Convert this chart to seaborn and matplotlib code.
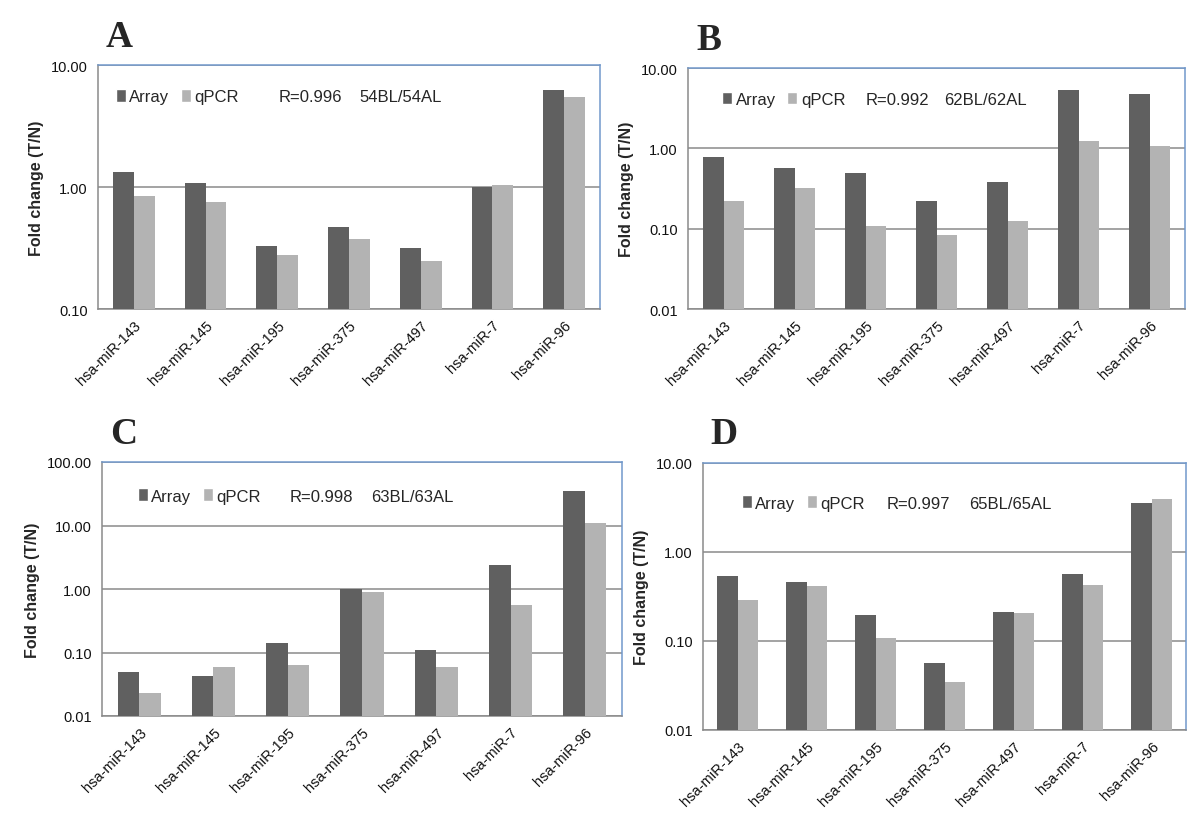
import matplotlib
matplotlib.use('agg')
import matplotlib.pyplot as plt
import matplotlib.ticker as mticker
from matplotlib.patches import Patch
import numpy as np
import pandas as pd
import seaborn as sns

# Data (fold change tumour / normal)
mirnas = ["hsa-miR-143", "hsa-miR-145", "hsa-miR-195", "hsa-miR-375",
          "hsa-miR-497", "hsa-miR-7", "hsa-miR-96"]

array_a = [1.33, 1.08, 0.33, 0.466, 0.316, 1.00, 6.23]
qpcr_a = [0.84, 0.75, 0.277, 0.372, 0.246, 1.03, 5.43]

array_b = [0.77, 0.57, 0.493, 0.219, 0.377, 5.27, 4.74]
qpcr_b = [0.219, 0.318, 0.109, 0.083, 0.126, 1.245, 1.06]

array_c = [0.0495, 0.0433, 0.142, 0.99, 0.109, 2.42, 34.4]
qpcr_c = [0.0228, 0.060, 0.063, 0.897, 0.060, 0.566, 10.9]

array_d = [0.531, 0.455, 0.198, 0.056, 0.212, 0.569, 3.57]
qpcr_d = [0.287, 0.417, 0.107, 0.0343, 0.205, 0.428, 3.93]

panel_letters = ["A", "B", "C", "D"]
r_values = ["R=0.996", "R=0.992", "R=0.998", "R=0.997"]
sample_names = ["54BL/54AL", "62BL/62AL", "63BL/63AL", "65BL/65AL"]
y_limits = [(0.1, 10), (0.01, 10), (0.01, 100), (0.01, 10)]

DARK = "#606060"
LIGHT = "#b3b3b3"
BLUE = "#7199cc"
AXGREY = "#8a8a8a"

sns.set_style("white")
plt.rcParams['font.family'] = ['Liberation Sans', 'DejaVu Sans']

fig = plt.figure(figsize=(12, 8.2), dpi=100)

rects = [
    [98 / 1200, 1 - 310 / 820, 502 / 1200, 244 / 820],
    [688 / 1200, 1 - 310 / 820, 497 / 1200, 241 / 820],
    [102 / 1200, 1 - 717 / 820, 520 / 1200, 254 / 820],
    [703 / 1200, 1 - 731 / 820, 483 / 1200, 267 / 820],
]
# legend / annotation positions in axes fractions
legend_pos = [(0.036, 0.87), (0.069, 0.87), (0.069, 0.866), (0.08, 0.85)]
r_pos = [0.36, 0.358, 0.36, 0.38]
name_pos = [0.52, 0.515, 0.517, 0.55]

series = [(array_a, qpcr_a), (array_b, qpcr_b), (array_c, qpcr_c), (array_d, qpcr_d)]

for i, (arr, qp) in enumerate(series):
    ax = fig.add_axes(rects[i])
    df = pd.DataFrame({
        "miRNA": mirnas * 2,
        "method": ["Array"] * len(mirnas) + ["qPCR"] * len(mirnas),
        "fold": arr + qp,
    })
    sns.barplot(data=df, x="miRNA", y="fold", hue="method",
                palette=[DARK, LIGHT], width=0.58, ax=ax,
                legend=False, saturation=1, zorder=3, linewidth=0)
    ax.set_yscale("log", nonpositive="clip")
    ymin, ymax = y_limits[i]
    ax.set_ylim(ymin, ymax)
    ax.set_xlim(-0.5, len(mirnas) - 0.5)
    decades = 10.0 ** np.arange(np.log10(ymin), np.log10(ymax) + 0.5)
    ax.yaxis.set_major_locator(mticker.FixedLocator(decades))
    ax.yaxis.set_minor_locator(mticker.NullLocator())
    ax.yaxis.set_major_formatter(mticker.FormatStrFormatter("%.2f"))
    ax.yaxis.grid(True, color=AXGREY, linewidth=1.1, zorder=0)
    ax.set_axisbelow(True)

    # category boundary ticks on x, labels at centres
    ax.set_xticks(np.arange(-0.5, len(mirnas)), minor=True)
    ax.tick_params(axis="x", which="minor", length=5, width=1, color=AXGREY, direction="out")
    ax.tick_params(axis="x", which="major", length=0, pad=6)
    ax.set_xticks(range(len(mirnas)))
    ax.set_xticklabels(mirnas, rotation=45, ha="right", rotation_mode="anchor",
                       fontsize=10.5, color="#111111")
    ax.tick_params(axis="y", which="major", length=4, width=1, color=AXGREY,
                   direction="out", labelsize=10.5, labelcolor="#111111")

    for side in ["left", "bottom"]:
        ax.spines[side].set_color(AXGREY)
        ax.spines[side].set_linewidth(1.1)
    for side in ["top", "right"]:
        ax.spines[side].set_color(BLUE)
        ax.spines[side].set_linewidth(1.1)

    ax.set_xlabel("")
    ax.set_ylabel("Fold change (T/N)", fontsize=11.5, fontweight="bold", labelpad=5)

    handles = [Patch(facecolor=DARK, label="Array"), Patch(facecolor=LIGHT, label="qPCR")]
    lx, ly = legend_pos[i]
    ax.legend(handles=handles, loc="center left", bbox_to_anchor=(lx, ly), ncol=2,
              frameon=False, fontsize=12, handlelength=0.6, handleheight=0.8,
              handletextpad=0.2, columnspacing=0.7, borderpad=0, borderaxespad=0)
    ax.text(r_pos[i], ly, r_values[i], transform=ax.transAxes, fontsize=12,
            va="center", ha="left")
    ax.text(name_pos[i], ly, sample_names[i], transform=ax.transAxes, fontsize=12,
            va="center", ha="left")

    ax.text(0.016, 1.045, panel_letters[i], transform=ax.transAxes,
            fontsize=27, fontweight="bold", family="Liberation Serif",
            va="bottom", ha="left")

fig.savefig("out.png", dpi=100)
